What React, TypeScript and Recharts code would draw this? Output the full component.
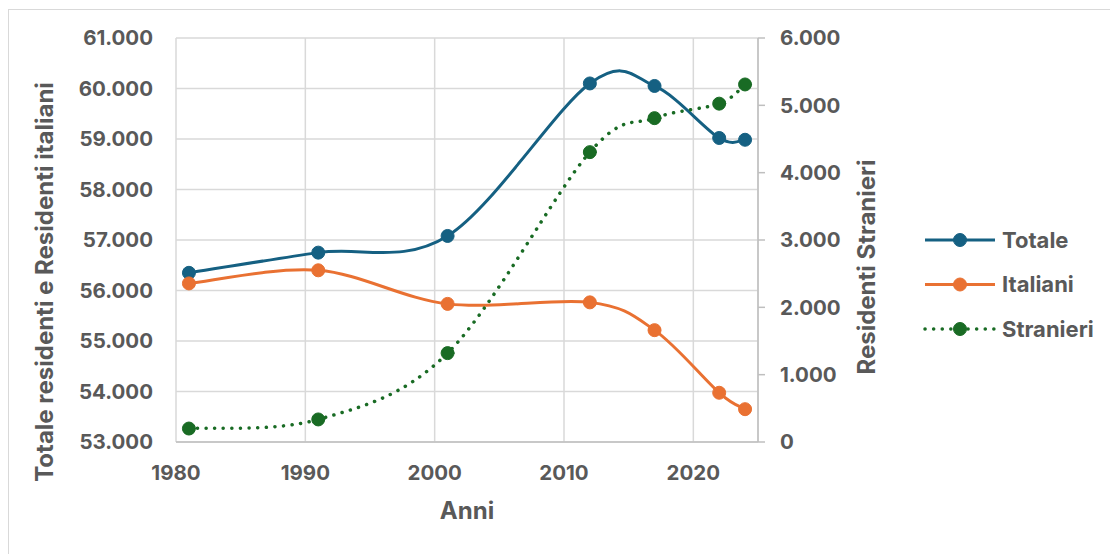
import React from 'react';
import { LineChart, Line, XAxis, YAxis, CartesianGrid, Legend, Label } from 'recharts';

// valori in migliaia
const anni = [1981, 1991, 2001, 2012, 2017, 2022, 2024];
const totale = [56350, 56750, 57080, 60100, 60050, 59020, 58985];
const italiani = [56140, 56400, 55735, 55765, 55215, 53975, 53650];
const stranieri = [200, 335, 1320, 4305, 4810, 5025, 5310];

const xTicks = [1980, 1990, 2000, 2010, 2020];
const leftTicks = [53000, 54000, 55000, 56000, 57000, 58000, 59000, 60000, 61000];
const rightTicks = [0, 1000, 2000, 3000, 4000, 5000, 6000];

const serie = [
    { key: 'totale', name: 'Totale', color: '#156082', dotted: false, axis: 'left' },
    { key: 'italiani', name: 'Italiani', color: '#E97132', dotted: false, axis: 'left' },
    { key: 'stranieri', name: 'Stranieri', color: '#196B24', dotted: true, axis: 'right' },
];

const data = anni.map((anno, i) => ({
    anno,
    totale: totale[i],
    italiani: italiani[i],
    stranieri: stranieri[i],
}));

const TEXT = '#595959';
const FONT = 'Inter, "Liberation Sans", sans-serif';
const tickStyle = { fill: TEXT, fontSize: 20.5, fontWeight: 700, fontFamily: FONT };
const TITLE_SIZE = 24;

const fmt = (v: number) => String(v).replace(/\B(?=(\d{3})+(?!\d))/g, '.');

// smussatura tipo Excel (Catmull-Rom)
const excelSmooth = (context: any) => {
    let pts: number[][] = [];
    return {
        areaStart() {},
        areaEnd() {},
        lineStart() { pts = []; },
        point(x: number, y: number) { pts.push([+x, +y]); },
        lineEnd() {
            if (!pts.length) return;
            context.moveTo(pts[0][0], pts[0][1]);
            for (let i = 0; i < pts.length - 1; i++) {
                const p0 = pts[i - 1] || pts[i];
                const p1 = pts[i];
                const p2 = pts[i + 1];
                const p3 = pts[i + 2] || p2;
                context.bezierCurveTo(
                    p1[0] + (p2[0] - p0[0]) / 6, p1[1] + (p2[1] - p0[1]) / 6,
                    p2[0] - (p3[0] - p1[0]) / 6, p2[1] - (p3[1] - p1[1]) / 6,
                    p2[0], p2[1]
                );
            }
        },
    };
};

const renderLegend = () => (
    <svg width={190} height={120}>
        {serie.map((s, i) => {
            const cy = 15 + i * 44.5;
            return (
                <g key={s.key}>
                    <line
                        x1={6} x2={76} y1={cy} y2={cy}
                        stroke={s.color}
                        strokeWidth={s.dotted ? 3.5 : 3}
                        strokeDasharray={s.dotted ? '0.1 8.5' : undefined}
                        strokeLinecap={s.dotted ? 'round' : 'butt'}
                    />
                    <circle cx={41} cy={cy} r={6.5} fill={s.color} stroke={s.color} strokeWidth={1} />
                    <text x={83} y={cy} dy="0.36em" fill={TEXT} fontSize={22} fontWeight={700} fontFamily={FONT}>
                        {s.name}
                    </text>
                </g>
            );
        })}
    </svg>
);

export default function App() {
    return (
        <div
            style={{
                position: 'fixed',
                left: 8,
                top: 9,
                width: 1101,
                height: 545,
                borderTop: '1px solid #D9D9D9',
                borderLeft: '1px solid #D9D9D9',
                background: '#fff',
            }}
        >
            <LineChart
                width={1101}
                height={544}
                data={data}
                margin={{ top: 28, right: 302, bottom: 62, left: 17 }}
            >
                <CartesianGrid yAxisId="left" stroke="#D9D9D9" strokeWidth={1.5} />
                <XAxis
                    dataKey="anno"
                    type="number"
                    domain={[1980, 2025]}
                    ticks={xTicks}
                    height={50}
                    axisLine={{ stroke: '#BFBFBF', strokeWidth: 1.5 }}
                    tickLine={false}
                    tickSize={0}
                    tickMargin={23}
                    tick={tickStyle}
                >
                    <Label
                        content={() => (
                            <text x={458} y={509} textAnchor="middle" fill={TEXT} fontSize={TITLE_SIZE} fontWeight={700} fontFamily={FONT}>
                                Anni
                            </text>
                        )}
                    />
                </XAxis>
                <YAxis
                    yAxisId="left"
                    orientation="left"
                    domain={[53000, 61000]}
                    ticks={leftTicks}
                    width={150}
                    axisLine={false}
                    tickLine={false}
                    tickSize={0}
                    tickMargin={23}
                    tickFormatter={fmt}
                    tick={tickStyle}
                >
                    <Label
                        content={() => (
                            <text
                                x={44} y={272}
                                transform="rotate(-90 44 272)"
                                textAnchor="middle"
                                fill={TEXT} fontSize={TITLE_SIZE} fontWeight={700} fontFamily={FONT}
                            >
                                Totale residenti e Residenti italiani
                            </text>
                        )}
                    />
                </YAxis>
                <YAxis
                    yAxisId="right"
                    orientation="right"
                    domain={[0, 6000]}
                    ticks={rightTicks}
                    width={50}
                    axisLine={{ stroke: '#BFBFBF', strokeWidth: 1.5 }}
                    tickLine={{ stroke: '#BFBFBF', strokeWidth: 1.5 }}
                    tickSize={7}
                    tickMargin={15}
                    tickFormatter={fmt}
                    tick={tickStyle}
                >
                    <Label
                        content={() => (
                            <text
                                x={866} y={257}
                                transform="rotate(-90 866 257)"
                                textAnchor="middle"
                                fill={TEXT} fontSize={TITLE_SIZE} fontWeight={700} fontFamily={FONT}
                            >
                                Residenti Stranieri
                            </text>
                        )}
                    />
                </YAxis>
                <Legend
                    layout="vertical"
                    align="center"
                    verticalAlign="middle"
                    content={renderLegend}
                    wrapperStyle={{ left: 910, top: 215, width: 190 }}
                />
                {serie.map((s) => (
                    <Line
                        key={s.key}
                        yAxisId={s.axis}
                        dataKey={s.key}
                        name={s.name}
                        type={excelSmooth as any}
                        stroke={s.color}
                        strokeWidth={s.dotted ? 3.5 : 3}
                        strokeDasharray={s.dotted ? '0.1 8.5' : undefined}
                        strokeLinecap={s.dotted ? 'round' : 'butt'}
                        dot={{ r: 6.5, fill: s.color, stroke: s.color, strokeWidth: 1, strokeDasharray: 'none' }}
                        activeDot={false}
                        isAnimationActive={false}
                    />
                ))}
            </LineChart>
        </div>
    );
}
